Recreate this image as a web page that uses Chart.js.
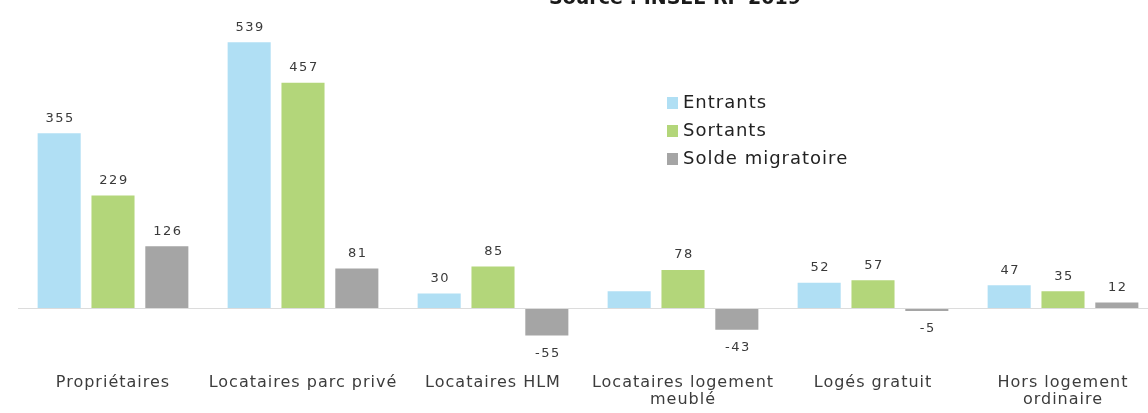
<!DOCTYPE html>
<html>
<head>
<meta charset="utf-8">
<script src="https://cdn.jsdelivr.net/npm/chart.js@4.4.1/dist/chart.umd.min.js"></script>
<style>
  html, body { margin: 0; padding: 0; background: #ffffff; overflow: hidden; }
  #wrap { position: relative; width: 1160px; height: 413px; }
</style>
</head>
<body>
<div id="wrap"><canvas id="c"></canvas></div>
<script>
const categories = [
  'Propriétaires',
  'Locataires parc privé',
  'Locataires HLM',
  ['Locataires logement', 'meublé'],
  'Logés gratuit',
  ['Hors logement', 'ordinaire']
];
const seriesNames = ['Entrants', 'Sortants', 'Solde migratoire'];
const entrants = [355, 539, 30, 35, 52, 47];
const sortants = [229, 457, 85, 78, 57, 35];
const solde = [126, 81, -55, -43, -5, 12];
const hiddenValueLabels = [[3], [], []];
const sourceText = 'Source : INSEE RP 2019';

const colors = ['#b0dff4', '#b3d67a', '#a5a5a5'];

const spacing = {
  id: 'spacing',
  beforeDraw(chart) { chart.ctx.letterSpacing = '1px'; },
  beforeDatasetsDraw(chart) { chart.ctx.letterSpacing = '0px'; }
};

const valueLabels = {
  id: 'valueLabels',
  afterDatasetsDraw(chart) {
    const ctx = chart.ctx;
    ctx.save();
    ctx.font = '13px "DejaVu Sans"';
    ctx.letterSpacing = '1.5px';
    ctx.fillStyle = '#3a3a3a';
    ctx.textAlign = 'center';
    ctx.textBaseline = 'middle';
    chart.data.datasets.forEach((ds, di) => {
      const meta = chart.getDatasetMeta(di);
      meta.data.forEach((bar, i) => {
        if (hiddenValueLabels[di].includes(i)) return;
        const v = ds.data[i];
        const y = v >= 0 ? bar.y - 15 : bar.y + 18;
        ctx.fillText(String(v), bar.x + 1, y);
      });
    });
    ctx.restore();
  }
};

const customLegend = {
  id: 'customLegend',
  afterDraw(chart) {
    const ctx = chart.ctx;
    ctx.save();
    ctx.font = '18px "DejaVu Sans"';
    ctx.letterSpacing = '1px';
    ctx.textBaseline = 'middle';
    ctx.textAlign = 'left';
    chart.data.datasets.forEach((ds, di) => {
      const y = 103 + di * 28;
      ctx.fillStyle = ds.backgroundColor;
      ctx.fillRect(667, y - 6, 11, 12);
      ctx.fillStyle = '#222222';
      ctx.fillText(ds.label, 683, y);
    });
    // cut-off source title at top
    ctx.font = 'bold 19px "DejaVu Sans"';
    ctx.letterSpacing = '0px';
    ctx.textAlign = 'center';
    ctx.textBaseline = 'alphabetic';
    ctx.fillStyle = '#1a1a1a';
    ctx.fillText(sourceText, 675, 4);
    ctx.restore();
  }
};

new Chart(document.getElementById('c'), {
  type: 'bar',
  data: {
    labels: categories,
    datasets: [
      { label: seriesNames[0], data: entrants, backgroundColor: colors[0] },
      { label: seriesNames[1], data: sortants, backgroundColor: colors[1] },
      { label: seriesNames[2], data: solde, backgroundColor: colors[2] }
    ]
  },
  options: {
    responsive: true,
    maintainAspectRatio: false,
    animation: false,
    layout: { padding: { left: 18, right: 2, top: 32, bottom: -14 } },
    datasets: { bar: { categoryPercentage: 0.85, barPercentage: 0.8 } },
    plugins: {
      legend: { display: false },
      tooltip: { enabled: false },
      title: { display: false }
    },
    scales: {
      x: {
        grid: { display: false, drawTicks: false },
        border: { display: false },
        ticks: {
          color: '#3c3c3c',
          font: { family: 'DejaVu Sans', size: 16, lineHeight: 1.1 },
          padding: 18,
          maxRotation: 0,
          autoSkip: false
        }
      },
      y: {
        min: -96,
        max: 560,
        ticks: { display: false },
        border: { display: false },
        grid: {
          drawTicks: false,
          color: (c) => (c.tick && c.tick.value === 0 ? '#dcdcdc' : 'rgba(0,0,0,0)')
        }
      }
    }
  },
  plugins: [spacing, valueLabels, customLegend]
});
</script>
</body>
</html>
